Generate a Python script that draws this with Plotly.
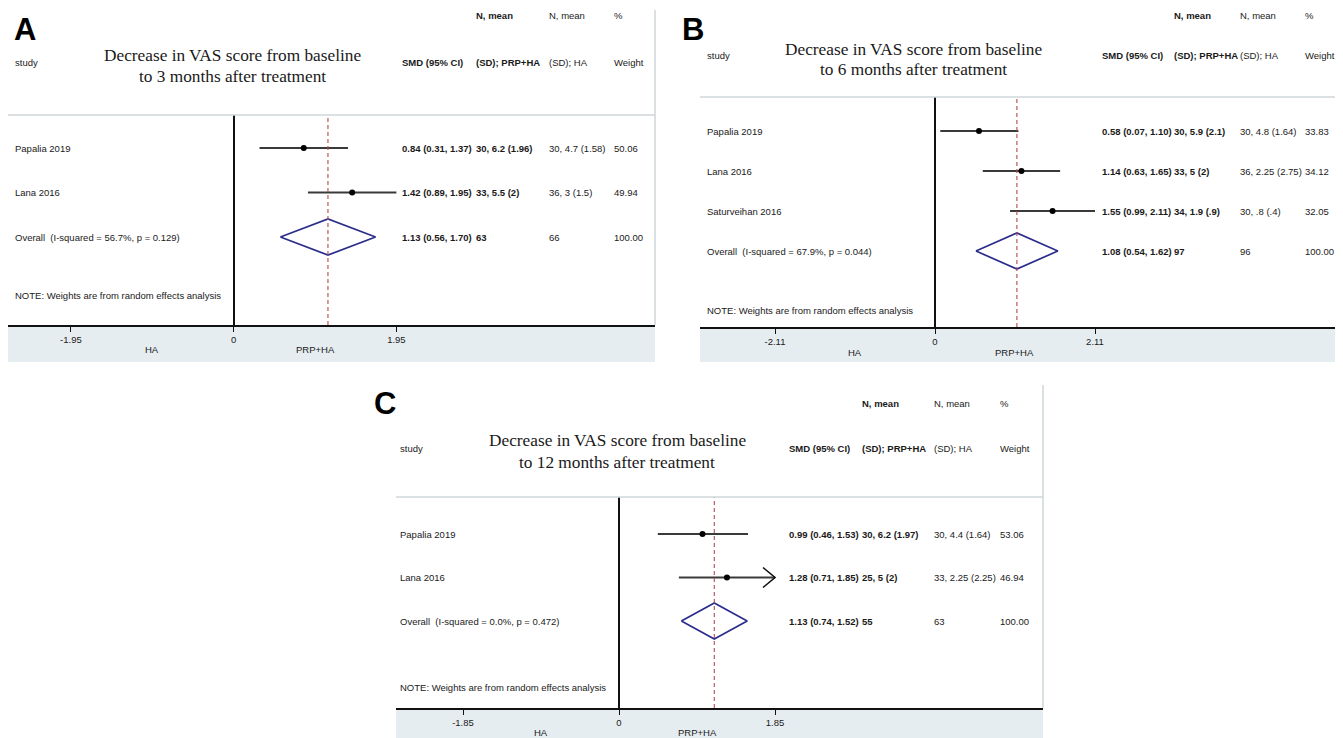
import plotly.graph_objects as go

# page body has an 8px default margin; the figure is sized to fill the rest
PAGE_W, PAGE_H = 1343, 738
OFF = 8
W, H = PAGE_W - OFF, PAGE_H - OFF

# ---------------- Data ----------------
# Panel A: 3 months
A_studies = ["Papalia 2019", "Lana 2016"]
A_smd = [0.84, 1.42]
A_lo = [0.31, 0.89]
A_hi = [1.37, 1.95]
A_prp = ["30, 6.2 (1.96)", "33, 5.5 (2)"]
A_ha = ["30, 4.7 (1.58)", "36, 3 (1.5)"]
A_weight = ["50.06", "49.94"]
A_arrow = [False, False]
A_overall = [1.13, 0.56, 1.70]
A_overall_label = "Overall\u00a0 (I-squared = 56.7%, p = 0.129)"
A_overall_cols = ["63", "66", "100.00"]
A_tick = 1.95
A_title = ["Decrease in VAS score from baseline", "to 3 months after treatment"]

# Panel B: 6 months
B_studies = ["Papalia 2019", "Lana 2016", "Saturveihan 2016"]
B_smd = [0.58, 1.14, 1.55]
B_lo = [0.07, 0.63, 0.99]
B_hi = [1.10, 1.65, 2.11]
B_prp = ["30, 5.9 (2.1)", "33, 5 (2)", "34, 1.9 (.9)"]
B_ha = ["30, 4.8 (1.64)", "36, 2.25 (2.75)", "30, .8 (.4)"]
B_weight = ["33.83", "34.12", "32.05"]
B_arrow = [False, False, False]
B_overall = [1.08, 0.54, 1.62]
B_overall_label = "Overall\u00a0 (I-squared = 67.9%, p = 0.044)"
B_overall_cols = ["97", "96", "100.00"]
B_tick = 2.11
B_title = ["Decrease in VAS score from baseline", "to 6 months after treatment"]

# Panel C: 12 months
C_studies = ["Papalia 2019", "Lana 2016"]
C_smd = [0.99, 1.28]
C_lo = [0.46, 0.71]
C_hi = [1.53, 1.85]
C_prp = ["30, 6.2 (1.97)", "25, 5 (2)"]
C_ha = ["30, 4.4 (1.64)", "33, 2.25 (2.25)"]
C_weight = ["53.06", "46.94"]
C_arrow = [False, True]
C_overall = [1.13, 0.74, 1.52]
C_overall_label = "Overall\u00a0 (I-squared = 0.0%, p = 0.472)"
C_overall_cols = ["55", "63", "100.00"]
C_tick = 1.85
C_title = ["Decrease in VAS score from baseline", "to 12 months after treatment"]

panels = [
    dict(letter="A", studies=A_studies, smd=A_smd, lo=A_lo, hi=A_hi, prp=A_prp, ha=A_ha,
         weight=A_weight, arrow=A_arrow, overall=A_overall, olabel=A_overall_label,
         ocols=A_overall_cols, tick=A_tick, title=A_title,
         g=dict(left=7, right=655, zero=233, tickpx=396, sep=115, axis=325, band=362,
                row1=148, sp=44.5, border_top=10, letter=(12, 29), hdr1=16, hdr2=62,
                tcx=232, ty=(55, 76), cols=(13, 400, 474, 547, 612), note=296, lab=349)),
    dict(letter="B", studies=B_studies, smd=B_smd, lo=B_lo, hi=B_hi, prp=B_prp, ha=B_ha,
         weight=B_weight, arrow=B_arrow, overall=B_overall, olabel=B_overall_label,
         ocols=B_overall_cols, tick=B_tick, title=B_title,
         g=dict(left=700, right=1341, zero=935, tickpx=1095, sep=97, axis=327, band=362,
                row1=131, sp=40, border_top=None, letter=(680, 29), hdr1=16, hdr2=56,
                tcx=914, ty=(49, 70), cols=(705, 1100, 1172, 1238, 1303), note=310, lab=352)),
    dict(letter="C", studies=C_studies, smd=C_smd, lo=C_lo, hi=C_hi, prp=C_prp, ha=C_ha,
         weight=C_weight, arrow=C_arrow, overall=C_overall, olabel=C_overall_label,
         ocols=C_overall_cols, tick=C_tick, title=C_title,
         g=dict(left=396, right=1043, zero=619, tickpx=775, sep=497, axis=708, band=738,
                row1=534, sp=43.5, border_top=385, letter=(372, 403), hdr1=403, hdr2=448,
                tcx=617, ty=(441, 462), cols=(398, 787, 860, 932, 998), note=687, lab=732)),
]

SANS = "Liberation Sans, Arial, sans-serif"
SERIF = "Liberation Serif, Times New Roman, serif"
TXT = "#1a1a1a"
FS = 9.5
CI_COLOR = "#3a3a3a"
DIAMOND = "#2b2d8c"
REDLINE = "#b24a52"
BAND = "#e6edf1"
BORDER = "#cfd6da"


def px(x):
    return (x - OFF) / W


def py(y):
    return 1 - (y - OFF) / H


fig = go.Figure()
annotations = []
shapes = []
layout_axes = {}

for i, p in enumerate(panels):
    g = p["g"]
    n = i + 1
    xname = "x" if n == 1 else f"x{n}"
    yname = "y" if n == 1 else f"y{n}"
    xkey = "xaxis" if n == 1 else f"xaxis{n}"
    ykey = "yaxis" if n == 1 else f"yaxis{n}"

    scale = (g["tickpx"] - g["zero"]) / p["tick"]
    xr = [(g["left"] - g["zero"]) / scale, (min(g["right"], PAGE_W) - g["zero"]) / scale]

    def row_of(ypx, g=g):
        return 1 + (ypx - g["row1"]) / g["sp"]

    yr = [row_of(g["axis"]), row_of(g["sep"])]
    t = p["tick"]

    layout_axes[xkey] = dict(
        domain=[max(px(g["left"]), 0), min(px(g["right"]), 1)], range=xr, anchor=yname,
        showline=True, linecolor="#111", linewidth=1.5,
        ticks="outside", ticklen=5, tickwidth=1.2, tickcolor="#111",
        tickvals=[-t, 0, t], ticktext=[f"-{t:.2f}", "0", f"{t:.2f}"],
        tickfont=dict(family=SANS, size=FS, color=TXT),
        zeroline=True, zerolinecolor="#111", zerolinewidth=1.5,
        showgrid=False, fixedrange=True,
    )
    layout_axes[ykey] = dict(
        domain=[py(g["axis"]), py(g["sep"])], range=yr, anchor=xname,
        visible=False, showgrid=False, zeroline=False, fixedrange=True,
    )

    rows = list(range(1, len(p["studies"]) + 1))
    orow = len(rows) + 1

    # CI lines
    lx, ly = [], []
    for r, lo, hi in zip(rows, p["lo"], p["hi"]):
        lx += [lo, hi, None]
        ly += [r, r, None]
    fig.add_trace(go.Scatter(x=lx, y=ly, mode="lines", xaxis=xname, yaxis=yname,
                             line=dict(color=CI_COLOR, width=1.8), hoverinfo="skip",
                             showlegend=False))
    # arrows for truncated CIs
    ax_, ay_ = [], []
    adx = 12 / scale
    ady = 10 / g["sp"]
    for r, hi, a in zip(rows, p["hi"], p["arrow"]):
        if a:
            ax_ += [hi - adx, hi, hi - adx, None]
            ay_ += [r - ady, r, r + ady, None]
    if ax_:
        fig.add_trace(go.Scatter(x=ax_, y=ay_, mode="lines", xaxis=xname, yaxis=yname,
                                 line=dict(color="#111", width=1.6), hoverinfo="skip",
                                 showlegend=False))
    # point estimates
    fig.add_trace(go.Scatter(x=p["smd"], y=rows, mode="markers", xaxis=xname, yaxis=yname,
                             marker=dict(color="#000", size=6), hoverinfo="skip",
                             showlegend=False))
    # diamond
    m, lo, hi = p["overall"]
    hh = 18 / g["sp"]
    fig.add_trace(go.Scatter(x=[lo, m, hi, m, lo], y=[orow, orow - hh, orow, orow + hh, orow],
                             mode="lines", xaxis=xname, yaxis=yname,
                             line=dict(color=DIAMOND, width=1.7), hoverinfo="skip",
                             showlegend=False))
    # overall dashed line
    shapes.append(dict(type="line", xref=xname, yref=f"{yname} domain", x0=m, x1=m, y0=0, y1=1,
                       line=dict(color=REDLINE, width=1.1, dash="4px,3px")))
    # separator
    shapes.append(dict(type="line", xref="paper", yref="paper", x0=px(g["left"]), x1=min(px(g["right"]), 1),
                       y0=py(g["sep"]), y1=py(g["sep"]), line=dict(color=BORDER, width=1.5)))
    # bottom band
    shapes.append(dict(type="rect", xref="paper", yref="paper", x0=px(g["left"]), x1=min(px(g["right"]), 1),
                       y0=py(g["band"]), y1=py(g["axis"]), fillcolor=BAND, line=dict(width=0),
                       layer="below"))
    # right border
    if g["border_top"] is not None:
        shapes.append(dict(type="line", xref="paper", yref="paper", x0=px(g["right"]), x1=px(g["right"]),
                           y0=py(g["axis"]), y1=py(g["border_top"]), line=dict(color=BORDER, width=1.5)))

    def ann(text, x, y, xref="paper", yref="paper", size=FS, family=SANS, xanchor="left"):
        annotations.append(dict(text=text, x=x, y=y, xref=xref, yref=yref, xanchor=xanchor,
                                yanchor="middle", showarrow=False,
                                font=dict(family=family, size=size, color=TXT)))

    c = g["cols"]
    # letter
    annotations.append(dict(text=f"<b>{p['letter']}</b>", x=px(g["letter"][0]), y=py(g["letter"][1]),
                            xref="paper", yref="paper", xanchor="left", yanchor="middle",
                            showarrow=False, font=dict(family=SANS, size=31, color="#000")))
    # headers
    ann("<b>N, mean</b>", px(c[2]), py(g["hdr1"]))
    ann("N, mean", px(c[3]), py(g["hdr1"]))
    ann("%", px(c[4]), py(g["hdr1"]))
    ann("study", px(c[0]), py(g["hdr2"]))
    ann("<b>SMD (95% CI)</b>", px(c[1]), py(g["hdr2"]))
    ann("<b>(SD); PRP+HA</b>", px(c[2]), py(g["hdr2"]))
    ann("(SD); HA", px(c[3]), py(g["hdr2"]))
    ann("Weight", px(c[4]), py(g["hdr2"]))
    # title
    for line, ty in zip(p["title"], g["ty"]):
        ann(line, px(g["tcx"]), py(ty), size=17.3, family=SERIF, xanchor="center")
    # study rows
    for r, s, v, lo_, hi_, pr, ha, wt in zip(rows, p["studies"], p["smd"], p["lo"], p["hi"],
                                            p["prp"], p["ha"], p["weight"]):
        ann(s, px(c[0]), r, yref=yname)
        ann(f"<b>{v:.2f} ({lo_:.2f}, {hi_:.2f})</b>", px(c[1]), r, yref=yname)
        ann(f"<b>{pr}</b>", px(c[2]), r, yref=yname)
        ann(ha, px(c[3]), r, yref=yname)
        ann(wt, px(c[4]), r, yref=yname)
    # overall row
    ann(p["olabel"], px(c[0]), orow, yref=yname)
    ann(f"<b>{m:.2f} ({lo:.2f}, {hi:.2f})</b>", px(c[1]), orow, yref=yname)
    ann(f"<b>{p['ocols'][0]}</b>", px(c[2]), orow, yref=yname)
    ann(p["ocols"][1], px(c[3]), orow, yref=yname)
    ann(p["ocols"][2], px(c[4]), orow, yref=yname)
    # note
    ann("NOTE: Weights are from random effects analysis", px(c[0]), py(g["note"]))
    # favours labels
    ann("HA", -t / 2, py(g["lab"]), xref=xname, xanchor="center")
    ann("PRP+HA", t / 2, py(g["lab"]), xref=xname, xanchor="center")

fig.update_layout(
    width=W, height=H, autosize=False,
    margin=dict(l=0, r=0, t=0, b=0),
    paper_bgcolor="white", plot_bgcolor="rgba(0,0,0,0)",
    showlegend=False,
    annotations=annotations, shapes=shapes,
    **layout_axes,
)

fig.write_html("out.html")
